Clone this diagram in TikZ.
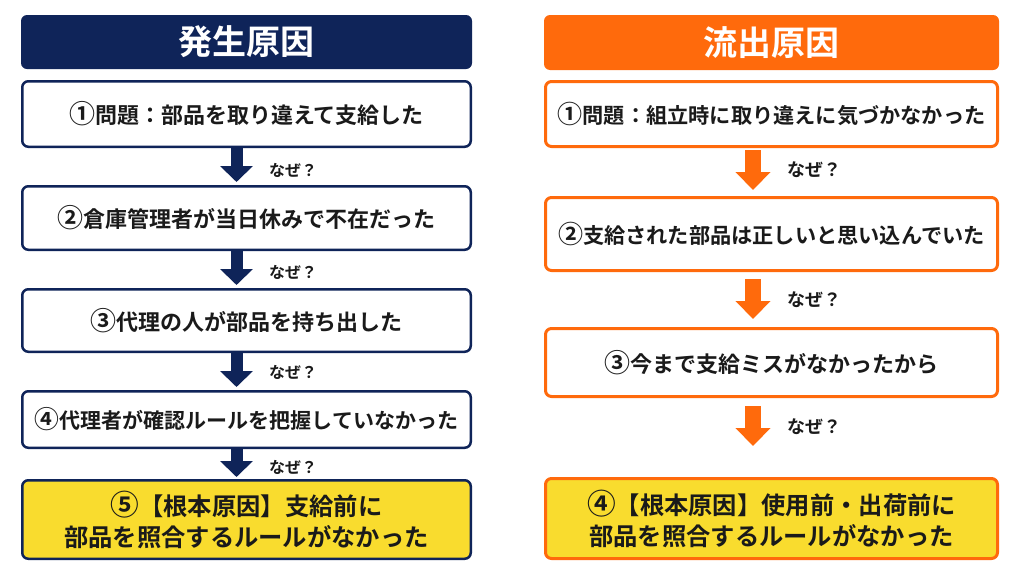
\documentclass[tikz,border=0pt]{standalone}
\usepackage{fontspec}
\setmainfont{Noto Sans CJK JP}[BoldFont=* Bold]
\usetikzlibrary{arrows.meta}
\definecolor{navy}{HTML}{0F2459}
\definecolor{orng}{HTML}{FF6A0C}
\definecolor{yel}{HTML}{F9DC2E}
\definecolor{ink}{HTML}{1A1A1A}
\newcommand{\cnum}[1]{\scalebox{1.18}{#1}}
\begin{document}
\begin{tikzpicture}[x=1pt,y=-1pt,
  hdr/.style={rounded corners=6pt, inner sep=0pt, text=white,
    font=\fontsize{34}{40}\selectfont\bfseries},
  lhdr/.style={hdr, fill=navy, minimum width=451pt},
  rhdr/.style={hdr, fill=orng, minimum width=455pt},
  box/.style={draw, rounded corners=6pt, fill=white, inner sep=0pt, text=ink,
    align=center, font=\fontsize{22}{26}\selectfont\bfseries},
  lbox/.style={box, draw=navy, line width=2.5pt, minimum width=448.5pt},
  rbox/.style={box, draw=orng, line width=3pt, minimum width=452pt},
  root/.style={fill=yel, font=\fontsize{24.3}{31}\selectfont\bfseries},
  larrow/.style={draw=navy, line width=12pt, -{Triangle[width=32pt,length=16pt]}},
  rarrow/.style={draw=orng, line width=16pt, -{Triangle[width=34pt,length=18pt]}},
  why/.style={anchor=west, inner sep=0pt, text=ink, font=\bfseries}
]
\useasboundingbox[fill=white] (0,0) rectangle (1024,576);

% left column
\node[lhdr, minimum height=54pt] (lh) at (246.5,42) {発生原因};
\node[lbox, minimum height=65.5pt] (l1) at (246.5,114) {\cnum{①}問題：部品を取り違えて支給した};
\node[lbox, minimum height=63.5pt] (l2) at (246.5,218) {\cnum{②}倉庫管理者が当日休みで不在だった};
\node[lbox, minimum height=62.5pt] (l3) at (246.5,320.5) {\cnum{③}代理の人が部品を持ち出した};
\node[lbox, minimum height=56.5pt, font=\fontsize{21}{26}\selectfont\bfseries] (l4) at (246.5,419.5) {\cnum{④}代理者が確認ルールを把握していなかった};
\node[lbox, root, minimum height=78.5pt] (l5) at (246.5,519.5) {\cnum{⑤}【根本原因】支給前に\\部品を照合するルールがなかった};

\coordinate (lax) at (236.5,0);
\draw[larrow, shorten >=3pt] (l1.south -| lax) -- (l2.north -| lax);
\draw[larrow, shorten >=3pt] (l2.south -| lax) -- (l3.north -| lax);
\draw[larrow, shorten >=3pt] (l3.south -| lax) -- (l4.north -| lax);
\draw[larrow, shorten >=2pt] (l4.south -| lax) -- (l5.north -| lax);

\node[why, font=\fontsize{16}{20}\selectfont\bfseries] (lw1) at (269,170) {なぜ？};
\node[why, font=\fontsize{16}{20}\selectfont\bfseries] (lw2) at (269,272) {なぜ？};
\node[why, font=\fontsize{16}{20}\selectfont\bfseries] (lw3) at (269,372) {なぜ？};
\node[why, font=\fontsize{16}{20}\selectfont\bfseries] (lw4) at (269,467) {なぜ？};

% right column
\node[rhdr, minimum height=55pt] (rh) at (771.5,42.5) {流出原因};
\node[rbox, minimum height=65pt, font=\fontsize{21.2}{26}\selectfont\bfseries] (r1) at (771.5,114) {\cnum{①}問題：組立時に取り違えに気づかなかった};
\node[rbox, minimum height=73pt, font=\fontsize{21.2}{26}\selectfont\bfseries] (r2) at (771.5,234) {\cnum{②}支給された部品は正しいと思い込んでいた};
\node[rbox, minimum height=68pt] (r3) at (771.5,362.5) {\cnum{③}今まで支給ミスがなかったから};
\node[rbox, root, minimum height=80pt] (r4) at (771.5,518.5) {\cnum{④}【根本原因】使用前・出荷前に\\部品を照合するルールがなかった};

\coordinate (rax) at (753,0);
\draw[rarrow, shorten <=2pt, shorten >=6pt] (r1.south -| rax) -- (r2.north -| rax);
\draw[rarrow, shorten <=7pt, shorten >=8pt] (r2.south -| rax) -- (r3.north -| rax);
\draw[rarrow, shorten <=8pt, shorten >=31pt] (r3.south -| rax) -- (r4.north -| rax);

\node[why, font=\fontsize{18}{22}\selectfont\bfseries] (rw1) at (787,170) {なぜ？};
\node[why, font=\fontsize{18}{22}\selectfont\bfseries] (rw2) at (787,300) {なぜ？};
\node[why, font=\fontsize{18}{22}\selectfont\bfseries] (rw3) at (787,427) {なぜ？};
\end{tikzpicture}
\end{document}
